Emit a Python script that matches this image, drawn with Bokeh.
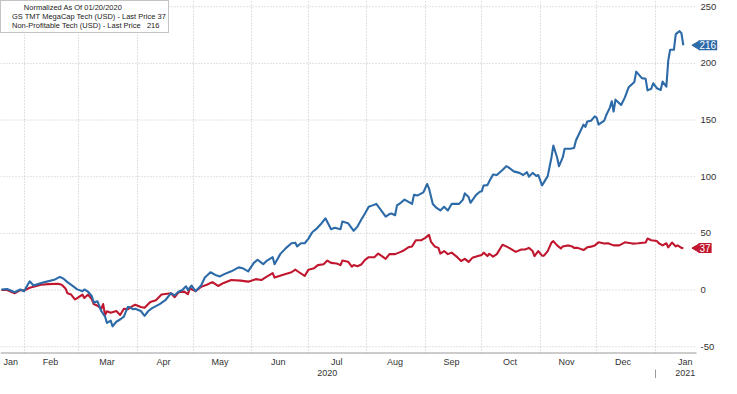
import numpy as np
import pandas as pd
from bokeh.plotting import figure
from bokeh.models import Range1d, FixedTicker, LinearAxis, Label, Legend, LegendItem
from bokeh.core.properties import value
from bokeh.embed import file_html
from bokeh.resources import INLINE

# ---------------- data ----------------
blue_dates = ["2020-01-20","2020-01-23","2020-01-27","2020-01-30","2020-02-01","2020-02-04","2020-02-06","2020-02-08","2020-02-12","2020-02-17","2020-02-20","2020-02-22","2020-02-24","2020-02-27","2020-02-29","2020-03-03","2020-03-04","2020-03-06","2020-03-08","2020-03-09","2020-03-11","2020-03-13","2020-03-15","2020-03-16","2020-03-18","2020-03-19","2020-03-21","2020-03-23","2020-03-25","2020-03-27","2020-03-28","2020-03-30","2020-03-31","2020-04-03","2020-04-05","2020-04-07","2020-04-09","2020-04-13","2020-04-16","2020-04-19","2020-04-21","2020-04-23","2020-04-25","2020-04-27","2020-04-28","2020-04-30","2020-05-01","2020-05-02","2020-05-05","2020-05-07","2020-05-10","2020-05-13","2020-05-15","2020-05-17","2020-05-21","2020-05-25","2020-05-27","2020-05-30","2020-06-02","2020-06-04","2020-06-07","2020-06-09","2020-06-12","2020-06-13","2020-06-16","2020-06-19","2020-06-22","2020-06-24","2020-06-25","2020-06-27","2020-06-29","2020-07-01","2020-07-03","2020-07-05","2020-07-08","2020-07-10","2020-07-13","2020-07-15","2020-07-18","2020-07-19","2020-07-22","2020-07-25","2020-07-27","2020-07-29","2020-07-31","2020-08-02","2020-08-04","2020-08-06","2020-08-08","2020-08-11","2020-08-13","2020-08-14","2020-08-16","2020-08-17","2020-08-19","2020-08-21","2020-08-25","2020-08-26","2020-08-28","2020-08-31","2020-09-02","2020-09-03","2020-09-05","2020-09-07","2020-09-09","2020-09-11","2020-09-13","2020-09-15","2020-09-18","2020-09-19","2020-09-21","2020-09-22","2020-09-24","2020-09-25","2020-09-28","2020-09-30","2020-10-01","2020-10-02","2020-10-04","2020-10-05","2020-10-07","2020-10-09","2020-10-12","2020-10-14","2020-10-15","2020-10-18","2020-10-21","2020-10-23","2020-10-25","2020-10-26","2020-10-28","2020-10-30","2020-10-31","2020-11-02","2020-11-03","2020-11-05","2020-11-07","2020-11-08","2020-11-10","2020-11-11","2020-11-13","2020-11-14","2020-11-17","2020-11-19","2020-11-20","2020-11-22","2020-11-24","2020-11-25","2020-11-26","2020-11-28","2020-11-30","2020-12-01","2020-12-02","2020-12-05","2020-12-06","2020-12-08","2020-12-09","2020-12-10","2020-12-11","2020-12-14","2020-12-16","2020-12-18","2020-12-21","2020-12-22","2020-12-25","2020-12-27","2020-12-28","2020-12-30","2020-12-31","2021-01-02","2021-01-04","2021-01-05","2021-01-07","2021-01-08","2021-01-09","2021-01-11","2021-01-12","2021-01-14","2021-01-15","2021-01-16"]
blue_values = [0.5,0.9,-2,0.5,-1,7.7,4,5,7,9,11.6,10,7,3.4,0.8,-1,0.5,-1.5,-5.5,-11,-10,-18.5,-23.4,-29,-27,-32,-28,-26,-23.4,-15,-15,-17,-16.5,-18.5,-22.8,-18.5,-16,-12.4,-9,-2.8,-4.7,-1.5,0,3.3,0,4,1.4,-1,4,11,15.7,13,12,13.8,16.5,20,19.3,16.5,24,26.7,22.8,26,29,22.8,31.7,37,41.3,41.8,38.5,41.3,41.3,45.4,51,53.7,59,63.3,53.7,55,53.7,60.5,59,52.3,56,62,67.5,73.5,74.7,76,71.6,64.7,67,67.5,66,74.7,77,79.8,76,84,83.5,86.2,93.6,89.5,76,72.4,70.2,73.5,70.2,76,76,76,79.8,85.3,82,77,84,86.7,87.2,92.3,92.6,96,102,101.5,106,109.3,108.5,104.7,103.4,101.5,104,100,103.4,100.6,101.5,92.3,95,100.5,117,127.5,117,109.3,117,124.7,124.7,125.3,132,139,146,144,148.7,149.4,153.3,152,146,149.4,154,161,166.6,157.5,168,163.3,170,179,183.6,192.7,187,186.4,176.2,177.6,182.5,178,176.5,184,179.5,202.4,212,212,225.8,228.5,226.6,216]

red_dates = ["2020-01-20","2020-01-23","2020-01-27","2020-01-30","2020-02-01","2020-02-04","2020-02-07","2020-02-10","2020-02-14","2020-02-19","2020-02-21","2020-02-23","2020-02-24","2020-02-26","2020-02-28","2020-02-29","2020-03-03","2020-03-04","2020-03-06","2020-03-08","2020-03-09","2020-03-11","2020-03-13","2020-03-14","2020-03-15","2020-03-16","2020-03-18","2020-03-21","2020-03-23","2020-03-25","2020-03-27","2020-03-30","2020-03-31","2020-04-03","2020-04-05","2020-04-08","2020-04-11","2020-04-14","2020-04-17","2020-04-19","2020-04-21","2020-04-23","2020-04-26","2020-04-28","2020-04-29","2020-05-02","2020-05-05","2020-05-08","2020-05-11","2020-05-14","2020-05-17","2020-05-21","2020-05-26","2020-05-30","2020-06-03","2020-06-06","2020-06-08","2020-06-12","2020-06-13","2020-06-18","2020-06-22","2020-06-24","2020-06-26","2020-06-29","2020-07-01","2020-07-04","2020-07-06","2020-07-09","2020-07-11","2020-07-13","2020-07-16","2020-07-18","2020-07-19","2020-07-22","2020-07-24","2020-07-25","2020-07-27","2020-07-29","2020-07-31","2020-08-02","2020-08-05","2020-08-07","2020-08-09","2020-08-11","2020-08-13","2020-08-16","2020-08-18","2020-08-20","2020-08-23","2020-08-25","2020-08-27","2020-08-30","2020-09-01","2020-09-03","2020-09-04","2020-09-06","2020-09-08","2020-09-09","2020-09-11","2020-09-13","2020-09-15","2020-09-18","2020-09-20","2020-09-22","2020-09-24","2020-09-26","2020-09-29","2020-10-01","2020-10-02","2020-10-04","2020-10-05","2020-10-07","2020-10-09","2020-10-12","2020-10-14","2020-10-16","2020-10-19","2020-10-22","2020-10-24","2020-10-26","2020-10-28","2020-10-29","2020-10-31","2020-11-02","2020-11-03","2020-11-05","2020-11-07","2020-11-08","2020-11-10","2020-11-12","2020-11-13","2020-11-16","2020-11-18","2020-11-19","2020-11-21","2020-11-24","2020-11-26","2020-11-28","2020-11-30","2020-12-02","2020-12-05","2020-12-07","2020-12-10","2020-12-13","2020-12-16","2020-12-20","2020-12-23","2020-12-27","2020-12-28","2020-12-30","2021-01-02","2021-01-03","2021-01-05","2021-01-07","2021-01-08","2021-01-10","2021-01-12","2021-01-13","2021-01-15","2021-01-16"]
red_values = [0,0,-2.8,0,-0.5,2,3.3,4.7,5.2,5.5,4.7,1.4,-2.8,-4,-8.3,-7.4,-4,-7,-4,-8.3,-12.4,-13.8,-16.5,-12.4,-22,-18.7,-20,-18.5,-22,-16.5,-17,-13.8,-13,-15,-15.7,-10.5,-9,-4,-3.3,-2.8,-6.3,-2,-1.4,-3.6,1.4,-1,2.8,4.7,7,3.6,6.3,8.8,8.3,7.4,9.6,8.8,11,15,11,13.8,15.7,18,15.7,12.4,18,19.3,22,22.8,26,24,23.4,22,26,25,20.7,22,21,22.5,26.7,29,29,32.2,30,27.5,31.7,31.7,33,34.4,37.7,38.5,44,44,46,48.7,42.8,38.5,37.2,32.2,34.4,31.7,33,29,25.6,27.5,24.8,28.4,30,31,33,30,32,29.5,31.7,40,38.5,36.7,33.7,35.8,35.8,37.2,34.4,30,34.4,30.3,30.3,34.4,41.9,43.2,39.4,36.6,38.5,39.4,38.5,37.2,37.2,35.3,37.7,38.3,39.4,42.1,41,41.3,39.4,39.4,42.1,41,41.3,41.9,45.4,44,43.2,41.3,39.4,41.3,37.7,41.9,38.5,39.4,37.2,37]

red_name = "GS TMT MegaCap Tech (USD) - Last Price 37"
blue_name = "Non-Profitable Tech (USD) - Last Price\u00a0\u00a0\u00a0216"
legend_title = "\u00a0" * 10 + "Normalized As Of 01/20/2020"

month_tick_dates = ["2020-01-25","2020-02-15","2020-03-16","2020-04-15","2020-05-15","2020-06-15","2020-07-16","2020-08-16","2020-09-15","2020-10-16","2020-11-15","2020-12-15","2021-01-17"]
month_labels = ["Jan","Feb","Mar","Apr","May","Jun","Jul","Aug","Sep","Oct","Nov","Dec","Jan"]
month_start_dates = ["2020-02-01","2020-03-01","2020-04-01","2020-05-01","2020-06-01","2020-07-01","2020-08-01","2020-09-01","2020-10-01","2020-11-01","2020-12-01","2021-01-01"]
year_tick_dates = ["2020-07-11","2021-01-17"]
year_labels = ["2020","2021"]
year_sep_dates = ["2021-01-01"]
y_ticks = [-50, 0, 50, 100, 150, 200, 250]

# ---------------- style ----------------
FONT = "Liberation Sans"
RED = "#c0172f"
BLUE = "#2d6aa8"
GRID = "#c4c4c4"
TXT = "#333333"
W, H = 721, 378
LABEL_AREA = 25  # px right of the plotting area for the value axis


def ms(d):
    return int(pd.Timestamp(d).value // 10**6)


x_start = ms("2020-01-19 12:00")
plot_end = ms("2021-01-23")
x_end = x_start + (plot_end - x_start) * W / (W - LABEL_AREA)
y_lo, y_hi = -56, 255.5

p = figure(width=W, height=H, output_backend="svg", toolbar_location=None,
           x_range=Range1d(x_start, x_end), y_range=Range1d(y_lo, y_hi),
           y_axis_location=None,
           min_border_left=0, min_border_top=0, min_border_right=0, min_border_bottom=0)
p.outline_line_color = None

# vertical grid at month starts
p.xgrid.ticker = FixedTicker(ticks=[ms(d) for d in month_start_dates])
p.xgrid.grid_line_color = GRID
p.xgrid.grid_line_dash = "1 2"
p.ygrid.visible = False

# horizontal grid lines (stop at the plotting area's right edge)
p.segment(x0=x_start, x1=plot_end, y0=y_ticks, y1=y_ticks,
          line_color=GRID, line_dash="1 2", line_width=1)
# bottom axis line
p.segment(x0=x_start, x1=plot_end, y0=y_lo, y1=y_lo, line_color="#9a9a9a", line_width=2)

# series
p.line(pd.to_datetime(red_dates), red_values, line_color=RED, line_width=2.1, line_join="round")
p.line(pd.to_datetime(blue_dates), blue_values, line_color=BLUE, line_width=2.1, line_join="round")

# value axis labels on the right
p.text(x=plot_end, y=y_ticks, text=[str(v) for v in y_ticks], x_offset=4,
       text_baseline="middle", text_align="left", text_font=value(FONT),
       text_font_size="9.5px", text_color=TXT)

# month axis
xa = p.xaxis[0]
xa.ticker = FixedTicker(ticks=[ms(d) for d in month_tick_dates])
xa.major_label_overrides = {ms(d): lab for d, lab in zip(month_tick_dates, month_labels)}
xa.major_tick_line_color = None
xa.minor_tick_line_color = None
xa.axis_line_color = None
xa.major_tick_out = 0
xa.major_tick_in = 0
xa.major_label_standoff = 3
xa.major_label_text_font = FONT
xa.major_label_text_font_size = "9px"
xa.major_label_text_color = TXT

# year axis
ya2 = LinearAxis(ticker=FixedTicker(ticks=[ms(d) for d in year_tick_dates],
                                    minor_ticks=[ms(d) for d in year_sep_dates]))
ya2.major_label_overrides = {ms(d): lab for d, lab in zip(year_tick_dates, year_labels)}
ya2.axis_line_color = None
ya2.major_tick_line_color = None
ya2.major_tick_out = 0
ya2.major_tick_in = 0
ya2.minor_tick_line_color = "#9a9a9a"
ya2.minor_tick_in = 0
ya2.minor_tick_out = 11
ya2.major_label_standoff = -11
ya2.major_label_text_font = FONT
ya2.major_label_text_font_size = "9px"
ya2.major_label_text_color = TXT
p.add_layout(ya2, "below")

# last value tags
tag_vals = [blue_values[-1], red_values[-1]]
tag_cols = [BLUE, RED]
p.scatter(x=plot_end, y=tag_vals, marker="triangle", angle=np.pi / 2, size=8,
          color=tag_cols)
for val, col in zip(tag_vals, tag_cols):
    p.add_layout(Label(x=plot_end, y=val, text=f"{round(val)}", text_color="white",
                       text_align="left", text_baseline="middle", x_offset=2,
                       text_font=FONT, text_font_size="10px",
                       background_fill_color=col, padding=1))

# legend
sq_red = p.scatter(x=[], y=[], marker="square", size=6, color=RED)
sq_blue = p.scatter(x=[], y=[], marker="square", size=6, color=BLUE)
legend = Legend(items=[LegendItem(label=red_name, renderers=[sq_red]),
                       LegendItem(label=blue_name, renderers=[sq_blue])],
                location="top_left", title=legend_title)
legend.margin = 0
legend.padding = 2
legend.spacing = 0
legend.border_line_color = "#8a8a8a"
legend.background_fill_alpha = 1
legend.label_text_font = FONT
legend.label_text_font_size = "7.5px"
legend.label_text_color = "#222222"
legend.label_height = 8
legend.label_standoff = 2
legend.glyph_height = 7
legend.glyph_width = 7
legend.title_text_font = FONT
legend.title_text_font_size = "7.5px"
legend.title_text_font_style = "normal"
legend.title_text_color = "#222222"
legend.title_standoff = 0
p.add_layout(legend)

open("out.html", "w").write(file_html(p, INLINE))
